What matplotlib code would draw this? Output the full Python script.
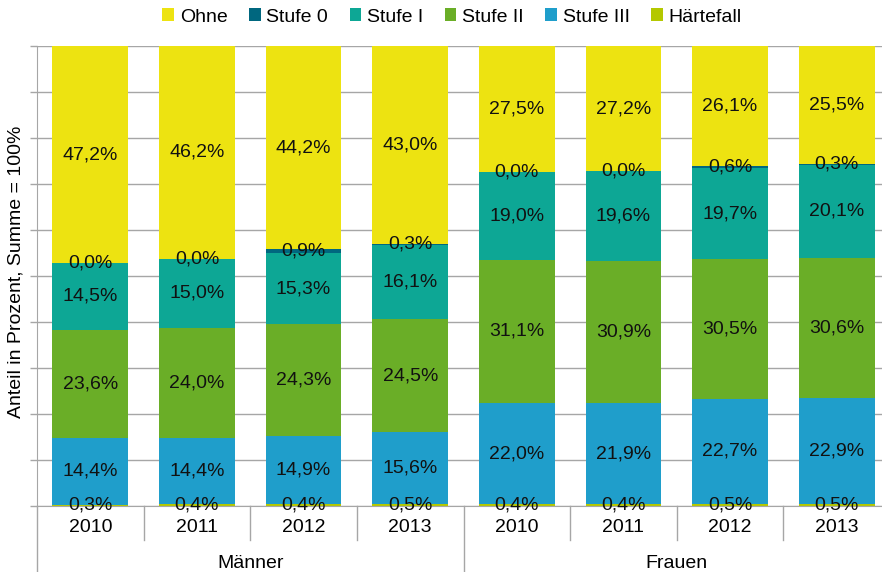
import matplotlib.pyplot as plt
import numpy as np

plt.rcParams['font.family'] = ['Liberation Sans', 'DejaVu Sans']

years = ['2010', '2011', '2012', '2013', '2010', '2011', '2012', '2013']
groups = ['Männer', 'Frauen']
series_names = ['Härtefall', 'Stufe III', 'Stufe II', 'Stufe I', 'Stufe 0', 'Ohne']

haertefall = [0.3, 0.4, 0.4, 0.5, 0.4, 0.4, 0.5, 0.5]
stufe_3 = [14.4, 14.4, 14.9, 15.6, 22.0, 21.9, 22.7, 22.9]
stufe_2 = [23.6, 24.0, 24.3, 24.5, 31.1, 30.9, 30.5, 30.6]
stufe_1 = [14.5, 15.0, 15.3, 16.1, 19.0, 19.6, 19.7, 20.1]
stufe_0 = [0.0, 0.0, 0.9, 0.3, 0.0, 0.0, 0.6, 0.3]
ohne = [47.2, 46.2, 44.2, 43.0, 27.5, 27.2, 26.1, 25.5]

colors = ['#B4C800', '#1F9ECB', '#6AAE27', '#0DA795', '#00677F', '#EDE311']

fig = plt.figure(figsize=(8.82, 5.72), dpi=100)
ax = fig.add_axes([37 / 882, 66 / 572, 853 / 882, 460 / 572])

x = np.arange(len(years))
bottom = np.zeros(len(years))
handles = {}
for name, vals, col in zip(series_names, [haertefall, stufe_3, stufe_2, stufe_1, stufe_0, ohne], colors):
    vals = np.array(vals)
    b = ax.bar(x, vals, 0.71, bottom=bottom, color=col, zorder=2)
    handles[name] = b
    for xi, v, bt in zip(x, vals, bottom):
        ax.text(xi, bt + v / 2, f'{v:.1f}%'.replace('.', ','), ha='center', va='center',
                fontsize=14, color='#111111', zorder=3)
    bottom += vals

ax.set_xlim(-0.5, 7.5)
ax.set_ylim(0, 100)
ax.set_yticks(np.arange(0, 101, 10))
ax.set_yticklabels([])
ax.yaxis.grid(True, color='#A6A6A6', linewidth=1, zorder=0)
ax.tick_params(axis='y', length=5, color='#A6A6A6', width=1)
ax.set_xticks(x)
ax.set_xticklabels(years, fontsize=14)
ax.tick_params(axis='x', length=0, pad=9)
for s in ['top', 'right']:
    ax.spines[s].set_visible(False)
ax.spines['left'].set_color('#A6A6A6')
ax.spines['bottom'].set_color('#A6A6A6')

# category separators below the axis
for b in np.arange(0.5, 7.5, 1.0):
    low = -14.5 if b == 3.5 else -7.4
    ax.plot([b, b], [0, low], color='#A6A6A6', lw=1, clip_on=False)
ax.plot([-0.5, -0.5], [0, -14.5], color='#A6A6A6', lw=1, clip_on=False)

ax.text(1.5, -12.4, groups[0], ha='center', va='center', fontsize=14)
ax.text(5.5, -12.4, groups[1], ha='center', va='center', fontsize=14)

fig.text(16 / 882, 1 - 272 / 572, 'Anteil in Prozent, Summe = 100%', rotation=90,
         ha='center', va='center', fontsize=14)

order = ['Ohne', 'Stufe 0', 'Stufe I', 'Stufe II', 'Stufe III', 'Härtefall']
fig.legend([handles[n] for n in order], order, loc='center', ncol=6,
           bbox_to_anchor=(452 / 882, 1 - 17 / 572), frameon=False, fontsize=14,
           handlelength=0.6, handleheight=0.6, handletextpad=0.3, columnspacing=1.1)

fig.savefig('out.png', dpi=100)
